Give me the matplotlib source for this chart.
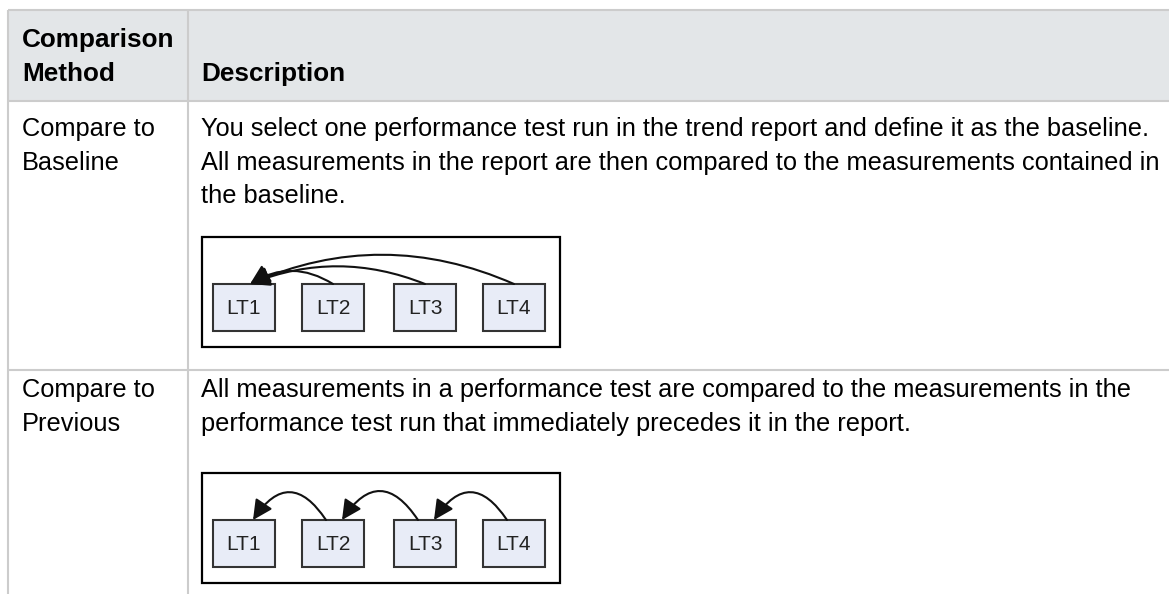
import matplotlib
matplotlib.use('Agg')
import matplotlib.pyplot as plt
from matplotlib.patches import Rectangle, FancyArrowPatch

# table content
header = [['Comparison', 'Method'], ['Description']]
methods = [['Compare to', 'Baseline'], ['Compare to', 'Previous']]
descriptions = [
    ['You select one performance test run in the trend report and define it as the baseline.',
     'All measurements in the report are then compared to the measurements contained in',
     'the baseline.'],
    ['All measurements in a performance test are compared to the measurements in the',
     'performance test run that immediately precedes it in the report.'],
]
runs = ['LT1', 'LT2', 'LT3', 'LT4']
# (source, target) index pairs for each diagram
links_baseline = [(1, 0), (2, 0), (3, 0)]
links_previous = [(1, 0), (2, 1), (3, 2)]
arc_rad_baseline = [0.31, 0.2, 0.22]
arc_rad_previous = [0.75, 0.75, 0.75]

W, H = 1169, 594
FONT = 'Liberation Sans'
GRID = '#cccccc'
HEAD_BG = '#e3e6e8'
FS = 18.3
FS_BOLD = 18.8


def draw_diagram(ax, x0, y0, links, rads, src_dx, dst_dx):
    ax.add_patch(Rectangle((x0, y0), 358, 110, fill=False, ec='black', lw=1.6, zorder=3))
    box_x = [11, 100, 192, 281]
    by = y0 + 47
    bh = 47
    bw = 62
    centers = []
    for bx, lab in zip(box_x, runs):
        ax.add_patch(Rectangle((x0 + bx, by), bw, bh, fc='#e8ecf7', ec='#333333', lw=1.5, zorder=3))
        ax.text(x0 + bx + bw / 2, by + bh / 2 + 1, lab, fontsize=15, family=FONT,
                ha='center', va='center', color='#222222', zorder=4)
        centers.append(x0 + bx + bw / 2)
    for (s, t), rad in zip(links, rads):
        arr = FancyArrowPatch((centers[s] + src_dx, by), (centers[t] + dst_dx, by),
                              connectionstyle='arc3,rad=%.2f' % rad,
                              arrowstyle='-|>,head_length=0.8,head_width=0.4',
                              mutation_scale=15, lw=1.5, color='#111111',
                              shrinkA=0, shrinkB=0, zorder=4)
        ax.add_patch(arr)


def main():
    fig = plt.figure(figsize=(W / 100, H / 100), dpi=100)
    ax = fig.add_axes([0, 0, 1, 1])
    ax.set_xlim(0, W)
    ax.set_ylim(H, 0)
    ax.axis('off')

    # header background and grid lines
    ax.add_patch(Rectangle((8, 10), W - 8, 91, fc=HEAD_BG, ec='none', zorder=1))
    for y in [10, 101, 370]:
        ax.plot([8, W], [y, y], color=GRID, lw=1.5, zorder=2, solid_capstyle='butt')
    for x in [8, 188]:
        ax.plot([x, x], [10, H], color=GRID, lw=1.5, zorder=2, solid_capstyle='butt')

    # header text
    ax.text(22, 47, header[0][0], fontsize=FS_BOLD, weight='bold', family=FONT, va='baseline')
    ax.text(22, 81, header[0][1], fontsize=FS_BOLD, weight='bold', family=FONT, va='baseline')
    ax.text(201, 81, header[1][0], fontsize=FS_BOLD, weight='bold', family=FONT, va='baseline')

    # rows
    row_base = [136, 397]
    for base, m, d in zip(row_base, methods, descriptions):
        for i, line in enumerate(m):
            ax.text(22, base + i * 34, line, fontsize=FS, family=FONT, va='baseline')
        for i, line in enumerate(d):
            ax.text(201, base + i * 33.7, line, fontsize=FS, family=FONT, va='baseline')

    draw_diagram(ax, 202, 237, links_baseline, arc_rad_baseline, 0, 6)
    draw_diagram(ax, 202, 473, links_previous, arc_rad_previous, -7, 9)

    plt.savefig('out.png', dpi=100)


if __name__ == '__main__':
    main()
